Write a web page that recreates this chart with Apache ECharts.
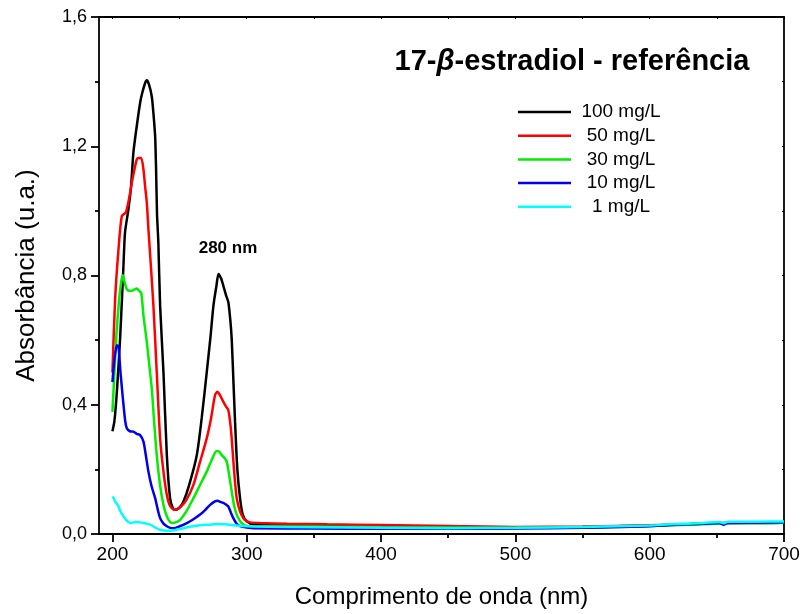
<!DOCTYPE html>
<html>
<head>
<meta charset="utf-8">
<script src="https://cdn.jsdelivr.net/npm/echarts@6/dist/echarts.min.js"></script>
<style>
  html, body { margin: 0; padding: 0; background: #fff; }
  #chart { width: 804px; height: 614px; }
</style>
</head>
<body>
<div id="chart"></div>
<script>
// UV-Vis absorbance spectra of 17-beta-estradiol at several concentrations
// Each entry: [wavelength (nm), absorbance (u.a.)]
const conc100 = [
  [200,0.318],[201.5,0.35],[203.3,0.44],[205.7,0.604],[208.2,0.83],[209.4,0.934],[211.9,1.005],
  [213.9,1.077],[215.6,1.18],[218.1,1.262],[220.6,1.334],[221.9,1.36],[224.3,1.395],[225.6,1.404],
  [227.3,1.39],[229.3,1.354],[230.5,1.303],[231.8,1.23],[232.5,1.128],[233.2,0.99],[234.2,0.9],
  [235.5,0.707],[238,0.50],[240.5,0.244],[242.9,0.111],[245,0.08],[246.7,0.075],[250,0.082],
  [252.8,0.10],[257,0.15],[262.8,0.244],[266.5,0.36],[270.2,0.50],[273,0.61],[275.2,0.707],
  [277.5,0.77],[279,0.805],[281,0.79],[282.6,0.768],[284.5,0.74],[286.3,0.717],[287.8,0.66],
  [288.8,0.604],[290.3,0.45],[291.3,0.347],[293,0.2],[295,0.111],[297,0.06],[300,0.039],
  [305,0.030],[330,0.028],[360,0.026],[400,0.024],[450,0.022],[500,0.021],[550,0.022],
  [600,0.026],[630,0.030],[650,0.033],[660,0.034],[680,0.034],[700,0.035]
];
const conc50 = [
  [200,0.50],[202,0.727],[204.5,0.88],[207,0.984],[210,0.995],[213.2,1.056],[214.4,1.087],
  [216.9,1.138],[218.1,1.159],[219.4,1.164],[221.4,1.164],[223.1,1.128],[224.3,1.077],[225.6,1.025],
  [226.8,0.943],[227.5,0.90],[230.5,0.707],[233,0.50],[235.5,0.296],[238,0.193],[240.5,0.121],
  [242.5,0.09],[244.2,0.08],[246,0.075],[248,0.076],[251,0.085],[255,0.105],[260.3,0.152],
  [265,0.22],[270.2,0.296],[273.5,0.36],[276.4,0.43],[278.1,0.44],[280,0.43],[282.6,0.409],
  [284.5,0.395],[286.3,0.383],[287.8,0.34],[288.8,0.296],[290.5,0.2],[292.5,0.111],[295,0.07],
  [297.5,0.049],[300,0.04],[302.5,0.036],[310,0.034],[330,0.032],[360,0.030],[400,0.028],
  [450,0.025],[500,0.022],[550,0.023],[600,0.027],[630,0.031],[650,0.034],[660,0.035],
  [680,0.035],[700,0.036]
];
const conc30 = [
  [200,0.378],[201.5,0.50],[203,0.62],[205,0.727],[206.5,0.78],[207.7,0.801],[209,0.78],
  [210.7,0.758],[212.5,0.753],[214.4,0.753],[216.5,0.757],[218.1,0.76],[220,0.752],[221.5,0.745],
  [223.1,0.676],[225.6,0.594],[227.5,0.52],[229.3,0.45],[231,0.35],[233,0.244],[235.5,0.15],
  [238,0.09],[241,0.05],[244.2,0.034],[247,0.036],[250.4,0.044],[255,0.07],[260.3,0.111],
  [265,0.15],[270.2,0.193],[274,0.23],[277.6,0.257],[279.5,0.255],[281.4,0.244],[283.5,0.235],
  [285.1,0.224],[287,0.18],[288.8,0.132],[290.5,0.09],[292.5,0.06],[295,0.04],[297.5,0.029],
  [300,0.025],[305,0.024],[350,0.023],[400,0.021],[450,0.020],[500,0.019],[550,0.021],
  [600,0.025],[630,0.029],[650,0.032],[660,0.034],[680,0.034],[700,0.035]
];
const conc10 = [
  [200,0.47],[201.5,0.54],[203.3,0.584],[204.5,0.58],[206,0.50],[208,0.41],[209.5,0.35],
  [210.7,0.327],[213,0.318],[215.6,0.317],[218,0.31],[220.6,0.306],[223.1,0.286],[225,0.24],
  [226.8,0.193],[229,0.15],[231.8,0.111],[233.5,0.08],[235.5,0.049],[238,0.032],[240.5,0.024],
  [243,0.019],[245.4,0.018],[250,0.024],[255.4,0.034],[260,0.045],[265.3,0.06],[269,0.074],
  [272.7,0.09],[276,0.1],[278.1,0.103],[280,0.1],[282.6,0.096],[284.5,0.091],[286.3,0.085],
  [288,0.068],[290,0.049],[292,0.035],[293.8,0.027],[297,0.022],[300,0.02],[305,0.018],
  [350,0.017],[400,0.016],[450,0.016],[500,0.017],[550,0.019],[580,0.022],[600,0.024],
  [615,0.028],[640,0.032],[652,0.034],[655,0.029],[658,0.034],[680,0.035],[700,0.036]
];
const conc1 = [
  [200,0.116],[201,0.11],[202,0.10],[204,0.09],[206,0.07],[208.2,0.055],[210.5,0.042],
  [213.2,0.034],[216,0.036],[218,0.037],[220.6,0.036],[224,0.033],[228,0.029],[232,0.02],
  [235.5,0.013],[240,0.01],[243,0.01],[248,0.013],[252.8,0.018],[260,0.024],[265.3,0.027],
  [272,0.029],[277.6,0.031],[284,0.03],[290,0.027],[296,0.025],[300,0.024],[305,0.023],
  [350,0.021],[400,0.019],[450,0.018],[500,0.019],[550,0.022],[600,0.026],[615,0.030],
  [640,0.034],[652,0.037],[655,0.033],[658,0.038],[680,0.038],[700,0.039]
];

const seriesNames = ['100 mg/L', '50 mg/L', '30 mg/L', '10 mg/L', '1 mg/L'];
const seriesData = [conc100, conc50, conc30, conc10, conc1];
const seriesColors = ['#000000', '#ff0000', '#00ee00', '#0000ee', '#00ffff'];

const xMajorTicks = [200, 300, 400, 500, 600, 700];
const xMinorTicks = [250, 350, 450, 550, 650];
const xAllTicks = [200, 250, 300, 350, 400, 450, 500, 550, 600, 650, 700];

const titleText = ['17-', 'β', '-estradiol - referência'];
const peakLabel = '280 nm';
const xName = 'Comprimento de onda (nm)';
const yName = 'Absorbância (u.a.)';

const FONT = '"Liberation Sans", Arial, sans-serif';
const chart = echarts.init(document.getElementById('chart'), null, { renderer: 'canvas' });

// legend drawn as a centred column next to short line samples
const legendX = 518, legendY0 = 112, legendDy = 23.7;
const legendGraphics = [];
seriesNames.forEach((name, i) => {
  legendGraphics.push({
    type: 'line',
    shape: { x1: legendX, y1: legendY0 + i * legendDy, x2: legendX + 53, y2: legendY0 + i * legendDy },
    style: { stroke: seriesColors[i], lineWidth: 2.5 }
  });
  legendGraphics.push({
    type: 'text',
    x: 621, y: legendY0 + i * legendDy,
    style: { text: name, fill: '#000', font: '19px ' + FONT, textAlign: 'center', textVerticalAlign: 'middle' }
  });
});

const option = {
  animation: false,
  backgroundColor: '#ffffff',
  grid: { left: 99, right: 20, top: 17, bottom: 79, containLabel: false },
  xAxis: [
    {
      type: 'value', min: 190, max: 700, position: 'bottom',
      name: xName, nameLocation: 'middle', nameGap: 51,
      nameTextStyle: { fontFamily: FONT, fontSize: 24, color: '#000' },
      axisLine: { show: true, lineStyle: { color: '#000', width: 1.8 } },
      axisTick: { show: true, inside: false, length: 8, customValues: xMajorTicks, lineStyle: { color: '#000', width: 1.8 } },
      axisLabel: { show: true, customValues: xMajorTicks, margin: 11, fontFamily: FONT, fontSize: 19, color: '#000' },
      splitLine: { show: false }
    },
    {
      type: 'value', min: 190, max: 700, position: 'bottom',
      axisLine: { show: false },
      axisTick: { show: true, inside: false, length: 4, customValues: xMinorTicks, lineStyle: { color: '#000', width: 1.8 } },
      axisLabel: { show: false },
      splitLine: { show: false }
    },
    {
      type: 'value', min: 190, max: 700, position: 'top',
      axisLine: { show: true, lineStyle: { color: '#000', width: 1.8 } },
      axisTick: { show: true, inside: true, length: 2, customValues: xAllTicks, lineStyle: { color: '#000', width: 1 } },
      axisLabel: { show: false },
      splitLine: { show: false }
    }
  ],
  yAxis: [
    {
      type: 'value', min: 0, max: 1.6, interval: 0.4, position: 'left',
      name: yName, nameLocation: 'middle', nameGap: 59, nameRotate: 90,
      nameTextStyle: { fontFamily: FONT, fontSize: 26, color: '#000' },
      axisLine: { show: true, lineStyle: { color: '#000', width: 1.8 } },
      axisTick: { show: true, inside: false, length: 8, lineStyle: { color: '#000', width: 1.8 } },
      minorTick: { show: true, splitNumber: 2, length: 4, lineStyle: { color: '#000', width: 1.8 } },
      axisLabel: {
        margin: 12, fontFamily: FONT, fontSize: 18, color: '#000',
        formatter: v => v.toFixed(1).replace('.', ',')
      },
      splitLine: { show: false }
    },
    {
      type: 'value', min: 0, max: 1.6, interval: 0.4, position: 'right',
      axisLine: { show: true, lineStyle: { color: '#000', width: 1.8 } },
      axisTick: { show: true, inside: true, length: 2, lineStyle: { color: '#000', width: 1 } },
      minorTick: { show: true, splitNumber: 2, length: 2, lineStyle: { color: '#000', width: 1 } },
      axisLabel: { show: false },
      splitLine: { show: false }
    }
  ],
  series: seriesData.map((d, i) => ({
    name: seriesNames[i],
    type: 'line',
    xAxisIndex: 0,
    yAxisIndex: 0,
    data: d,
    showSymbol: false,
    smooth: 0.25,
    lineStyle: { color: seriesColors[i], width: 2.5 },
    itemStyle: { color: seriesColors[i] },
    z: 2 + i
  })),
  graphic: [
    {
      type: 'text', x: 572, y: 62,
      style: {
        text: '{a|' + titleText[0] + '}{b|' + titleText[1] + '}{a|' + titleText[2] + '}',
        textAlign: 'center', textVerticalAlign: 'middle',
        rich: {
          a: { fontFamily: FONT, fontSize: 29, fontWeight: 'bold', fill: '#000' },
          b: { fontFamily: FONT, fontSize: 29, fontWeight: 'bold', fontStyle: 'italic', fill: '#000' }
        }
      }
    },
    {
      type: 'text', x: 228, y: 248,
      style: { text: peakLabel, fill: '#000', font: 'bold 17px ' + FONT, textAlign: 'center', textVerticalAlign: 'middle' }
    }
  ].concat(legendGraphics)
};

chart.setOption(option);
</script>
</body>
</html>
